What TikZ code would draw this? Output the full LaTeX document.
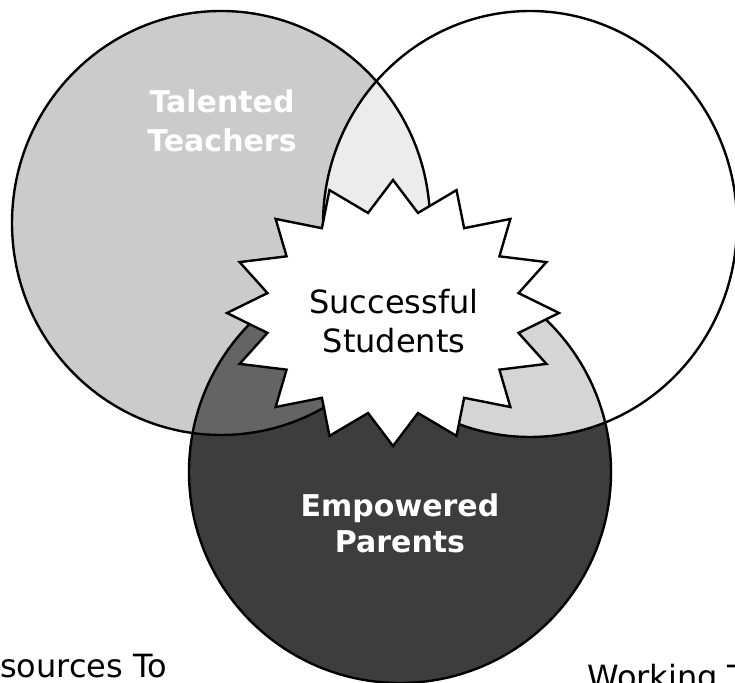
\documentclass[tikz,border=0pt]{standalone}
\usepackage{fontspec}
\newfontfamily\vfont{DejaVu Sans}
\definecolor{teachgray}{HTML}{CBCBCB}
\definecolor{parentgray}{HTML}{3D3D3D}
\definecolor{tpgray}{HTML}{646464}
\definecolor{rpgray}{HTML}{D5D5D5}
\definecolor{trgray}{HTML}{ECECEC}
\begin{document}
\begin{tikzpicture}[x=1pt,y=1pt]
\tikzset{
  ring/.style={draw=black, line width=2.4pt},
  burst/.style={draw=black, fill=white, line width=2.4pt, line join=miter},
  boldlabel/.style={text=white, font=\vfont\bfseries\fontsize{30}{39}\selectfont, align=center},
  plainlabel/.style={text=black, font=\vfont\fontsize{32}{39}\selectfont, align=center}
}
\useasboundingbox (0,0) rectangle (735,682);
\clip (0,0) rectangle (735,682);
\fill[white] (0,0) rectangle (735,682);
% base fills
\fill[teachgray] (221,459) ellipse [x radius=209, y radius=212];
\fill[parentgray] (400,210) circle [radius=211];
% overlaps
\begin{scope}
  \clip (221,459) ellipse [x radius=209, y radius=212];
  \fill[tpgray] (400,210) circle [radius=211];
\end{scope}
\begin{scope}
  \clip (530,458) ellipse [x radius=207, y radius=213];
  \fill[rpgray] (400,210) circle [radius=211];
\end{scope}
\begin{scope}
  \clip (221,459) ellipse [x radius=209, y radius=212];
  \fill[trgray] (530,458) ellipse [x radius=207, y radius=213];
\end{scope}
% outlines
\draw[ring] (221,459) ellipse [x radius=209, y radius=212];
\draw[ring] (530,458) ellipse [x radius=207, y radius=213];
\draw[ring] (400,210) circle [radius=211];
% star burst
\draw[burst] plot[samples at={0,1,...,31}, variable=\k]
  ({393+(mod(\k,2)==0 ? 166 : 128)*cos(\k*11.25)},
   {369+(mod(\k,2)==0 ? 133 : 102)*sin(\k*11.25)}) -- cycle;
% labels
\node[boldlabel] (teachers) at (222,561) {Talented\\Teachers};
\node[plainlabel] (students) at (394,360.5) {Successful\\Students};
\node[boldlabel, font=\vfont\bfseries\fontsize{30}{36}\selectfont] (parents) at (400,158.5) {Empowered\\Parents};
\node[plainlabel, anchor=base west, inner sep=0pt] (resources) at (0,5) {sources To};
\node[plainlabel, anchor=base west, inner sep=0pt] (working) at (587,-6) {Working T};
\end{tikzpicture}
\end{document}
